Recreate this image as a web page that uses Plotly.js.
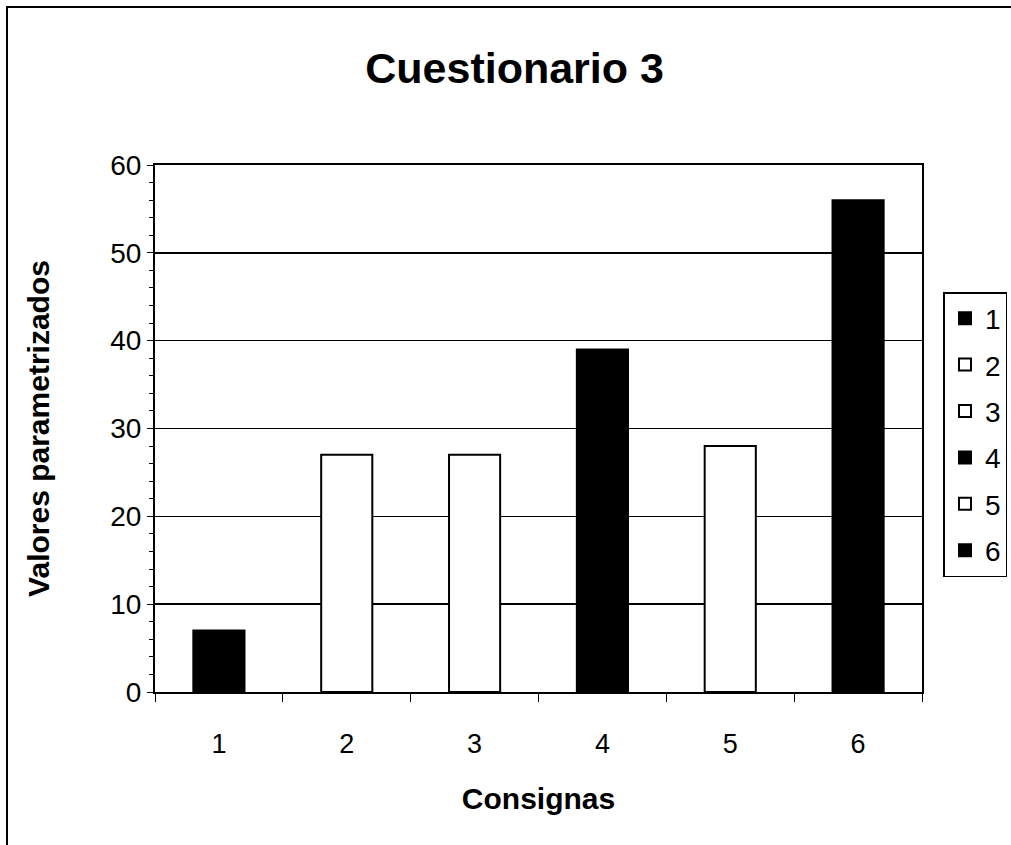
<!DOCTYPE html>
<html>
<head>
<meta charset="utf-8">
<script src="https://cdn.plot.ly/plotly-3.0.1.min.js"></script>
<style>
html,body{margin:0;padding:0;background:#fff;overflow:hidden;}
#wrap{position:relative;width:1011px;height:845px;}
#chart{width:1011px;height:845px;}
#frame{position:absolute;left:6px;top:6px;width:1010px;height:845px;border-top:2px solid #000;border-left:2px solid #000;pointer-events:none;box-sizing:border-box;}
</style>
</head>
<body>
<div id="wrap">
<div id="chart"></div>
<div id="frame"></div>
</div>
<script>
const categories = ['1', '2', '3', '4', '5', '6'];
const values = [7, 27, 27, 39, 28, 56];
const seriesNames = ['1', '2', '3', '4', '5', '6'];
const fills = ['#000000', '#ffffff', '#ffffff', '#000000', '#ffffff', '#000000'];

const traces = categories.map((c, i) => ({
  type: 'bar',
  name: seriesNames[i],
  legendgroup: 'g' + seriesNames[i],
  x: [c],
  y: [values[i]],
  marker: {color: fills[i], line: {color: '#000', width: 2}},
  width: 0.40,
  hoverinfo: 'x+y'
}));

const font = 'Liberation Sans, Arial, sans-serif';
const layout = {
  width: 1011, height: 845,
  paper_bgcolor: '#fff', plot_bgcolor: '#fff',
  margin: {l: 155, r: 89, t: 165, b: 153, autoexpand: false},
  barmode: 'overlay',
  showlegend: true,
  title: {text: '<b>Cuestionario 3</b>', x: 0.509, xanchor: 'center', xref: 'container', y: 0.92, yanchor: 'middle',
          font: {family: font, size: 43, color: '#000'}},
  font: {family: font, color: '#000'},
  xaxis: {
    type: 'category', categoryorder: 'array', categoryarray: categories,
    showline: true, linecolor: '#000', linewidth: 2, mirror: true,
    ticks: 'outside', tickson: 'boundaries', ticklen: 8, tickcolor: '#000', tickwidth: 1,
    ticklabelstandoff: 27,
    tickfont: {family: font, size: 27, color: '#000'},
    showgrid: false, zeroline: false,
    title: {text: '<b>Consignas</b>', font: {family: font, size: 30, color: '#000'}, standoff: 30}
  },
  yaxis: {
    range: [0, 60], dtick: 10, tick0: 0,
    showline: true, linecolor: '#000', linewidth: 2, mirror: true,
    ticks: 'outside', ticklen: 6, tickcolor: '#000', tickwidth: 1,
    minor: {ticks: 'outside', dtick: 2, ticklen: 4, tickcolor: '#000', showgrid: false},
    tickfont: {family: font, size: 28, color: '#000'},
    showgrid: true, gridcolor: '#000', gridwidth: 1.5, zeroline: false,
    title: {text: '<b>Valores parametrizados</b>', font: {family: font, size: 30, color: '#000'}, standoff: 52}
  },
  legend: {
    x: 1.028, xanchor: 'left', y: 0.759, yanchor: 'top',
    bordercolor: '#000', borderwidth: 1.5, bgcolor: '#fff',
    font: {family: font, size: 28, color: '#000'},
    itemwidth: 30, tracegroupgap: 7, traceorder: 'grouped'
  }
};

Plotly.newPlot('chart', traces, layout, {displayModeBar: false, staticPlot: true});
</script>
</body>
</html>
